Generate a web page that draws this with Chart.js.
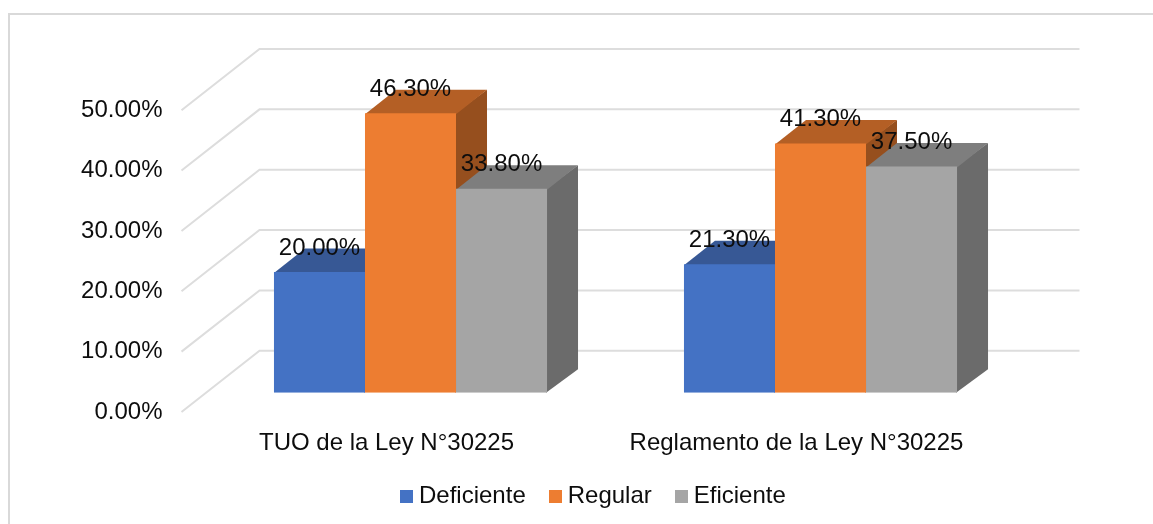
<!DOCTYPE html>
<html>
<head>
<meta charset="utf-8">
<title>Chart</title>
<script src="https://cdn.jsdelivr.net/npm/chart.js@4"></script>
<style>
html, body { margin: 0; padding: 0; background: #fff; overflow: hidden; }
#wrap { position: relative; width: 1153px; height: 524px; }
#frame { position: absolute; left: 8px; top: 13px; right: 0; bottom: 0; border-left: 2px solid #d9d9d9; border-top: 2px solid #d9d9d9; }
canvas { position: absolute; left: 0; top: 0; }
</style>
</head>
<body>
<div id="wrap">
	<div id="frame"></div>
	<canvas id="chartCanvas" width="1153" height="524"></canvas>
</div>
<script>
var categories = ['TUO de la Ley N°30225', 'Reglamento de la Ley N°30225'];
var deficiente = [20.0, 21.3];
var regular = [46.3, 41.3];
var eficiente = [33.8, 37.5];
var seriesNames = ['Deficiente', 'Regular', 'Eficiente'];
var seriesColors = ['#4472C4', '#ED7D31', '#A5A5A5'];
var topColors = ['#375895', '#B45F25', '#7E7E7E'];
var sideColors = ['#2C4780', '#964F1E', '#6B6B6B'];

var FONT = '"Liberation Sans", Arial, sans-serif';
var TEXT = '#0D0D0D';
var GRID = '#DDDDDD';

// floor runs from the axis plane back to the wall, bars stand part way along it
var WALL_X = 78, WALL_Y = -61.2;
var BAR_X = 24, BAR_Y = -19.2;
var DEPTH_X = 31, DEPTH_Y = -23.5;

function pct(v) {
	return v.toFixed(2) + '%';
}

// small square for the legend, so the gap to its text can stay narrow
function swatch(color) {
	var c = document.createElement('canvas');
	c.width = 13;
	c.height = 13;
	var g = c.getContext('2d');
	g.fillStyle = color;
	g.fillRect(0, 0, 13, 13);
	return c;
}

function poly(ctx, color, pts) {
	ctx.fillStyle = color;
	ctx.beginPath();
	ctx.moveTo(pts[0][0], pts[0][1]);
	for (var i = 1; i < pts.length; i++) {
		ctx.lineTo(pts[i][0], pts[i][1]);
	}
	ctx.closePath();
	ctx.fill();
}

var wallPlugin = {
	id: 'wall',
	beforeDatasetsDraw: function(chart) {
		var ctx = chart.ctx, y = chart.scales.y, area = chart.chartArea;
		ctx.save();
		ctx.strokeStyle = GRID;
		ctx.lineWidth = 2;
		y.ticks.forEach(function(t) {
			var py = y.getPixelForValue(t.value);
			ctx.beginPath();
			ctx.moveTo(area.left, py);
			ctx.lineTo(area.left + WALL_X, py + WALL_Y);
			ctx.lineTo(area.right + WALL_X, py + WALL_Y);
			ctx.stroke();
		});
		ctx.restore();
	}
};

var barsPlugin = {
	id: 'bars3d',
	// all side and top faces first, left series to right, the front faces then go over them
	beforeDatasetsDraw: function(chart) {
		var ctx = chart.ctx;
		ctx.save();
		ctx.translate(BAR_X, BAR_Y);
		chart.data.datasets.forEach(function(ds, i) {
			chart.getDatasetMeta(i).data.forEach(function(el) {
				var l = el.x - el.width / 2, r = el.x + el.width / 2;
				// faces run 1px under the front so no sliver shows at the edge
				poly(ctx, sideColors[i], [[r - 1, el.y], [r + DEPTH_X, el.y + DEPTH_Y], [r + DEPTH_X, el.base + DEPTH_Y], [r - 1, el.base]]);
				poly(ctx, topColors[i], [[l, el.y + 1], [l + DEPTH_X, el.y + DEPTH_Y], [r + DEPTH_X, el.y + DEPTH_Y], [r, el.y + 1]]);
			});
		});
		ctx.restore();
	},
	beforeDatasetDraw: function(chart) {
		chart.ctx.save();
		chart.ctx.translate(BAR_X, BAR_Y);
	},
	afterDatasetDraw: function(chart) {
		chart.ctx.restore();
	},
	afterDatasetsDraw: function(chart) {
		var ctx = chart.ctx;
		ctx.save();
		ctx.font = '24px ' + FONT;
		ctx.fillStyle = TEXT;
		ctx.textAlign = 'center';
		ctx.textBaseline = 'middle';
		chart.data.datasets.forEach(function(ds, i) {
			chart.getDatasetMeta(i).data.forEach(function(el, j) {
				ctx.fillText(pct(ds.data[j]), el.x + BAR_X, el.y + BAR_Y - 24);
			});
		});
		ctx.restore();
	}
};

var legendPlugin = {
	id: 'legendSpot',
	afterLayout: function(chart) {
		chart.legend.left = 377;
		chart.legend.right = 1153;
		chart.legend.top = 455.6;
	}
};

var chartdata = {
	labels: categories,
	datasets: [
		{ label: seriesNames[0], data: deficiente, backgroundColor: seriesColors[0] },
		{ label: seriesNames[1], data: regular, backgroundColor: seriesColors[1] },
		{ label: seriesNames[2], data: eficiente, backgroundColor: seriesColors[2] }
	]
};

var barGraph = new Chart(document.getElementById('chartCanvas'), {
	type: 'bar',
	data: chartdata,
	plugins: [wallPlugin, barsPlugin, legendPlugin],
	options: {
		responsive: false,
		animation: false,
		layout: { padding: { left: 0, right: 151.5, top: 110.2, bottom: 0 } },
		datasets: { bar: { categoryPercentage: 0.666, barPercentage: 1 } },
		scales: {
			x: {
				grid: { display: false, drawTicks: false },
				border: { display: false },
				ticks: { padding: 17.3, color: TEXT, font: { family: FONT, size: 24 }, maxRotation: 0 },
				afterFit: function(scale) { scale.height = 49; }
			},
			y: {
				min: 0,
				max: 50,
				grid: { display: false, drawTicks: false },
				border: { display: false },
				ticks: {
					stepSize: 10,
					padding: 19,
					color: TEXT,
					font: { family: FONT, size: 24 },
					callback: function(v) { return pct(v); }
				},
				afterFit: function(scale) { scale.width = 181.5; }
			}
		},
		plugins: {
			tooltip: { enabled: false },
			legend: {
				position: 'bottom',
				align: 'start',
				labels: {
					usePointStyle: true,
					pointStyleWidth: 1,
					boxHeight: 13,
					padding: 29,
					color: TEXT,
					font: { family: FONT, size: 24 },
					generateLabels: function(chart) {
						var items = Chart.defaults.plugins.legend.labels.generateLabels(chart);
						items.forEach(function(it) {
							it.pointStyle = swatch(it.fillStyle);
						});
						return items;
					}
				}
			}
		}
	}
});
</script>
</body>
</html>
